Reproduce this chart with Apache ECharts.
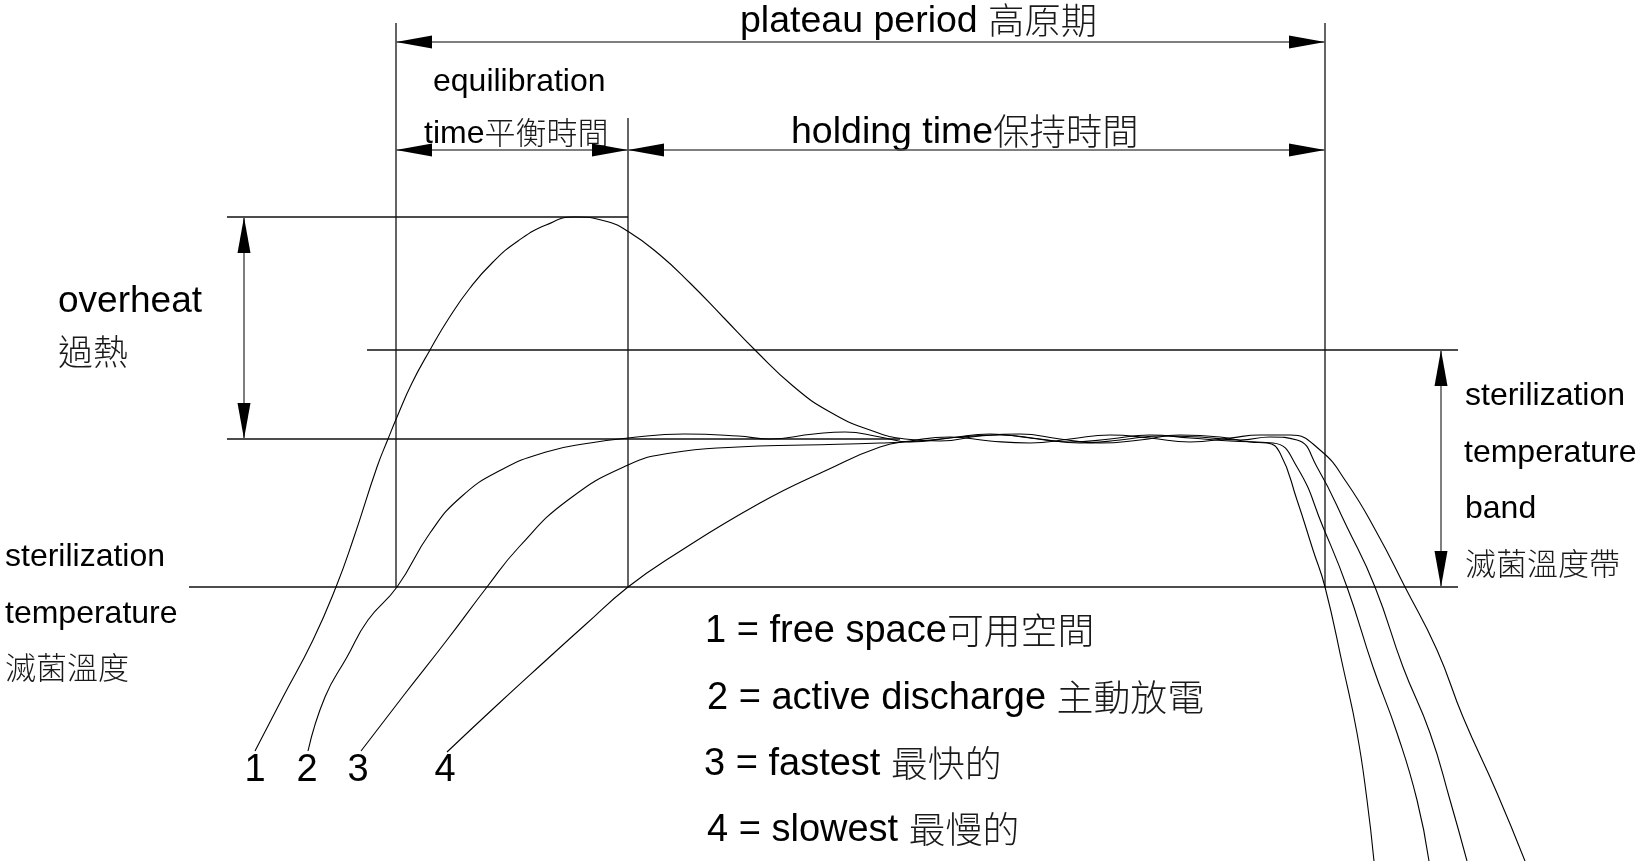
<!DOCTYPE html>
<html>
<head>
<meta charset="utf-8">
<script src="https://cdn.jsdelivr.net/npm/echarts@6/dist/echarts.min.js"></script>
<style>
html,body{margin:0;padding:0;background:#fff;}
#chart{width:1643px;height:861px;}
</style>
</head>
<body>
<div id="chart"></div>
<script>
// Temperature curves (x = time position, y = temperature position, drawing units)
const curve1 = [[255,751],[283,697],[313,640],[336,587],[353,540],[377,467],[388,439],[397,417],[412,383],[430,350],[449,318],[470,288],[493,262],[518,241],[546,225],[575,217],[605,221],[629,232],[660,255],[690,283],[724,318],[755,350],[793,386],[830,412],[870,430],[905,439],[940,441],[980,436],[1020,434],[1060,439],[1100,443],[1140,440],[1180,435],[1220,437],[1250,442],[1267,443],[1280,453],[1297,500],[1313,550],[1325,587],[1343,667],[1357,733],[1367,800],[1374,861]];
const curve2 = [[308,751],[325,697],[347,657],[368,620],[397,587],[430,533],[461,497],[501,470],[546,452],[590,443],[628,438],[684,434],[738,436],[769,439],[814,434],[845,432],[880,437],[910,442],[950,438],[990,434],[1030,438],[1070,442],[1110,439],[1150,435],[1190,438],[1230,441],[1273,443],[1297,467],[1323,527],[1347,587],[1373,667],[1397,733],[1417,800],[1429,861]];
const curve3 = [[361,751],[404,695],[447,640],[487,587],[519,547],[568,500],[628,465],[671,453],[738,447],[805,445],[880,443],[920,441],[960,437],[1000,435],[1040,439],[1080,443],[1120,440],[1160,436],[1200,437],[1240,440],[1270,437],[1297,440],[1317,467],[1347,527],[1375,587],[1403,667],[1430,733],[1450,800],[1467,861]];
const curve4 = [[447,752],[495,707],[543,663],[585,625],[628,587],[671,557],[760,503],[827,470],[880,447],[910,441],[950,437],[990,441],[1030,443],[1070,439],[1110,435],[1150,438],[1190,442],[1230,438],[1260,435],[1290,435],[1320,450],[1347,483],[1377,533],[1405,587],[1437,650],[1463,717],[1497,793],[1525,861]];

// Reference / extension lines [x1, y1, x2, y2]
const refLines = [
  [396,23,396,587],[628,118,628,587],[1325,23,1325,587],
  [227,217,628,217],[227,439,900,439],
  [367,350,1458,350],[189,587,1458,587]
];
// Dimension arrows [x1, y1, x2, y2]
const dimArrows = [
  [396,42,1325,42],[396,150,628,150],[628,150,1325,150],
  [244,217,244,439],[1441,350,1441,587]
];
// Text labels [text, x, y, size]
const labels = [
  ['plateau period 高原期',740,22,37.5],
  ['equilibration',433,82,32],
  ['time平衡時間',424,134,32],
  ['holding time保持時間',791,133,37.5],
  ['overheat',58,302,37],
  ['過熱',58,354,36],
  ['sterilization',5,557,32],
  ['temperature',5,614,32],
  ['滅菌溫度',5,669,32],
  ['sterilization',1465,396,32],
  ['temperature',1464,453,32],
  ['band',1465,509,32],
  ['滅菌溫度帶',1465,565,32],
  ['1 = free space可用空間',705,632,38],
  ['2 = active discharge 主動放電',707,699,38],
  ['3 = fastest 最快的',704,765,38],
  ['4 = slowest 最慢的',707,831,38]
];
const curveTags = [['1',255],['2',307],['3',358],['4',445]];
const curveTagY = 771;

const FONT = "'Liberation Sans', Arial, sans-serif";
const CJK_FONT = "'Noto Sans CJK TC', 'Noto Sans CJK SC', sans-serif";

const chart = echarts.init(document.getElementById('chart'), null, {renderer:'canvas'});

function lineSeries(d){
  return {type:'line', data:d, smooth:0.5, showSymbol:false, symbol:'none',
    lineStyle:{color:'#000', width:1.1}, silent:true, animation:false, clip:true};
}

// split mixed text into Latin / CJK runs for rich text
function richText(str){
  const runs = str.match(/[\u3000-\u9fff]+|[^\u3000-\u9fff]+/g) || [];
  return runs.map(r => /[\u3000-\u9fff]/.test(r) ? '{c|' + r + '}' : '{l|' + r + '}').join('');
}

const textItems = labels.map(l => ({type:'text', x:l[1], y:l[2], silent:true,
  style:{text:richText(l[0]), align:'left', verticalAlign:'middle',
    rich:{
      l:{fontSize:l[3], fontFamily:FONT, fill:'#000', color:'#000', verticalAlign:'middle', lineHeight:l[3]*1.1},
      c:{fontSize:l[3]*0.97, fontFamily:CJK_FONT, fontWeight:300, fill:'#1a1a1a', color:'#1a1a1a', verticalAlign:'middle', lineHeight:l[3]*1.1, padding:[0,0,4,0]}
    }}}))
  .concat(curveTags.map(t => ({type:'text', x:t[1], y:curveTagY, silent:true,
  style:{text:t[0], fontSize:38, fontFamily:FONT, fill:'#000', align:'center', verticalAlign:'middle'}})));

chart.setOption({
  backgroundColor:'#fff',
  animation:false,
  grid:{left:0,right:0,top:0,bottom:0,containLabel:false},
  xAxis:{type:'value', min:0, max:1643, show:false},
  yAxis:{type:'value', min:0, max:861, inverse:true, show:false},
  graphic: textItems,
  series:[
    {type:'custom', data:refLines, silent:true, animation:false,
     renderItem:function(params, api){
       const a = api.coord([api.value(0), api.value(1)]);
       const b = api.coord([api.value(2), api.value(3)]);
       return {type:'line', shape:{x1:a[0],y1:a[1],x2:b[0],y2:b[1]}, style:{stroke:'#111', lineWidth:1.3}};
     }},
    {type:'custom', data:dimArrows, silent:true, animation:false,
     renderItem:function(params, api){
       const a = api.coord([api.value(0), api.value(1)]);
       const b = api.coord([api.value(2), api.value(3)]);
       const dx=b[0]-a[0], dy=b[1]-a[1], len=Math.hypot(dx,dy);
       const ux=dx/len, uy=dy/len, nx=-uy, ny=ux;
       const L=36, W=6.5;
       function head(t, s){
         return [[t[0],t[1]],[t[0]+s*ux*L+nx*W, t[1]+s*uy*L+ny*W],[t[0]+s*ux*L-nx*W, t[1]+s*uy*L-ny*W]];
       }
       return {type:'group', children:[
         {type:'line', shape:{x1:a[0],y1:a[1],x2:b[0],y2:b[1]}, style:{stroke:'#555', lineWidth:1.5}},
         {type:'polygon', shape:{points:head(a,1)}, style:{fill:'#000'}},
         {type:'polygon', shape:{points:head(b,-1)}, style:{fill:'#000'}}
       ]};
     }},
    lineSeries(curve1), lineSeries(curve2), lineSeries(curve3), lineSeries(curve4)
  ]
});
</script>
</body>
</html>
